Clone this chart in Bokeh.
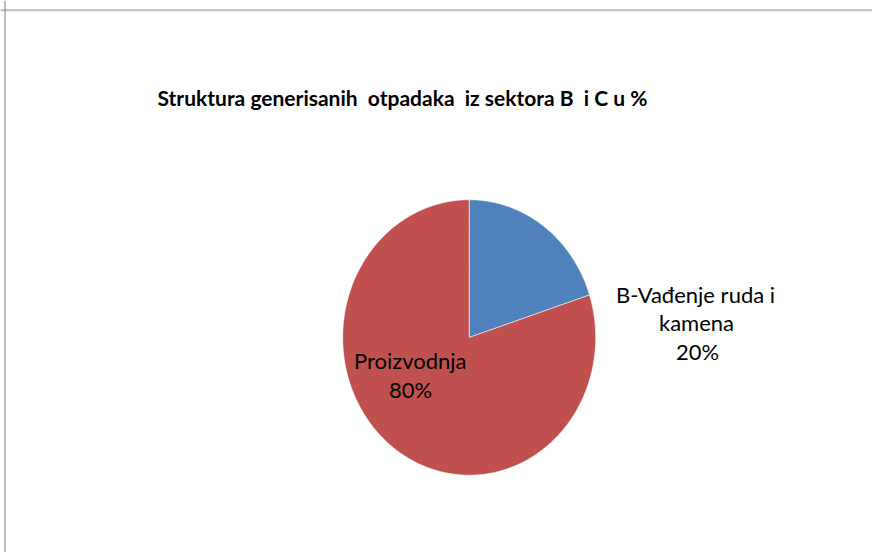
import numpy as np
from bokeh.plotting import figure
from bokeh.models import Range1d, Label, Span, ColumnDataSource
from bokeh.embed import file_html
from bokeh.resources import INLINE

# ---- data ----
title_text = "Struktura generisanih\u00a0 otpadaka\u00a0 iz sektora B\u00a0 i C u %"
categories = ["B-Vađenje ruda i kamena", "Proizvodnja"]
values = [20, 80]
colors = ["#4F81BD", "#C0504D"]
label_lines_b = ["B-Vađenje ruda i", "kamena", "20%"]
label_lines_p = ["Proizvodnja", "80%"]

# ---- layout ----
W, H = 872, 552
CX, CY = 468.7, 337.0
RX, RY = 126.5, 137.7

p = figure(width=W, height=H, x_range=Range1d(0, W), y_range=Range1d(H, 0),
           output_backend="svg", toolbar_location=None, min_border=0,
           x_axis_type=None, y_axis_type=None)
p.grid.visible = False
p.outline_line_color = None
p.background_fill_color = "white"
p.border_fill_color = "white"

# border (top + left)
p.add_layout(Span(location=9.5, dimension="width", line_color="#7f7f7f", line_width=1))
p.add_layout(Span(location=10.5, dimension="width", line_color="#d0d0d0", line_width=1))
p.add_layout(Span(location=4.5, dimension="height", line_color="#7f7f7f", line_width=1))

total = float(sum(values))
cum = np.concatenate([[0.0], np.cumsum(values)]) / total
xs, ys = [], []
for i in range(len(values)):
    a0 = np.pi / 2 - 2 * np.pi * cum[i]
    a1 = np.pi / 2 - 2 * np.pi * cum[i + 1]
    t = np.linspace(a0, a1, 240)
    xs.append(np.concatenate([[CX], CX + RX * np.cos(t), [CX]]).tolist())
    ys.append(np.concatenate([[CY], CY - RY * np.sin(t), [CY]]).tolist())

src = ColumnDataSource(dict(xs=xs, ys=ys, color=colors, name=categories))
p.patches("xs", "ys", source=src, fill_color="color", line_color="white",
          line_width=0.8, line_alpha=0.7)

# title
p.add_layout(Label(x=157, y=97, text=title_text, text_font="Lato",
                   text_font_style="bold", text_font_size="21px",
                   text_color="#000000", text_align="left",
                   text_baseline="alphabetic"))

# labels
lab_b_x = [695, 696, 697]
lab_b_y = [294, 322, 351]
lab_p_x = [409.7, 410]
lab_p_y = [359.5, 388.5]
for tx, x, y in zip(label_lines_b, lab_b_x, lab_b_y):
    p.add_layout(Label(x=x, y=y, text=tx, text_font="Lato",
                       text_font_size="22px", text_color="#000000",
                       text_align="center", text_baseline="alphabetic"))
for tx, x, y in zip(label_lines_p, lab_p_x, lab_p_y):
    p.add_layout(Label(x=x, y=y, text=tx, text_font="Lato",
                       text_font_size="22px", text_color="#000000",
                       text_align="center", text_baseline="alphabetic"))

open("out.html", "w").write(file_html(p, INLINE))
